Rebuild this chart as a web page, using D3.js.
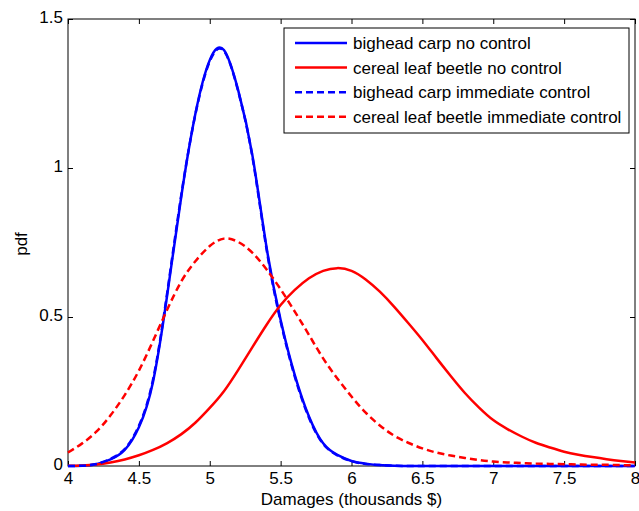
<!DOCTYPE html>
<html>
    <head>
        <meta charset="utf-8">
        <title>Damages pdf</title>
        <script type="text/javascript" src="https://d3js.org/d3.v7.min.js"></script>
        <style>
            body { margin: 0; background: #fff; }
            svg { display: block; }
            text { font-family: "Liberation Sans", Arial, Helvetica, sans-serif; font-size: 17px; fill: #000; }
        </style>
    </head>
    <body>
        <script>
            // damages grid (thousands $)
            var damages = [4.0, 4.1, 4.2, 4.3, 4.4, 4.5, 4.6, 4.7, 4.8, 4.9,
                           5.0, 5.1, 5.2, 5.3, 5.4, 5.5, 5.6, 5.7, 5.8, 5.9,
                           6.0, 6.1, 6.2, 6.3, 6.4, 6.5, 6.6, 6.7, 6.8, 6.9,
                           7.0, 7.1, 7.2, 7.3, 7.4, 7.5, 7.6, 7.7, 7.8, 7.9, 8.0];

            // pdf values
            var carpNoControl = [0.000, 0.001, 0.006, 0.022, 0.054, 0.130, 0.283, 0.574, 0.907, 1.185,
                                 1.362, 1.396, 1.262, 1.045, 0.736, 0.490, 0.305, 0.166, 0.076, 0.037,
                                 0.017, 0.008, 0.003, 0.001, 0, 0, 0, 0, 0, 0,
                                 0, 0, 0, 0, 0, 0, 0, 0, 0, 0, 0];
            var beetleNoControl = [0.001, 0.002, 0.005, 0.012, 0.022, 0.036, 0.054, 0.077, 0.107, 0.146,
                                   0.195, 0.251, 0.322, 0.398, 0.473, 0.540, 0.591, 0.630, 0.655, 0.664,
                                   0.655, 0.626, 0.585, 0.535, 0.480, 0.423, 0.362, 0.302, 0.245, 0.196,
                                   0.154, 0.124, 0.099, 0.078, 0.062, 0.048, 0.038, 0.030, 0.023, 0.017, 0.012];
            var carpImmediate = [0.000, 0.001, 0.007, 0.024, 0.057, 0.135, 0.290, 0.582, 0.912, 1.183,
                                 1.358, 1.393, 1.259, 1.040, 0.730, 0.485, 0.300, 0.162, 0.074, 0.036,
                                 0.016, 0.007, 0.003, 0.001, 0, 0, 0, 0, 0, 0,
                                 0, 0, 0, 0, 0, 0, 0, 0, 0, 0, 0];
            var beetleImmediate = [0.045, 0.076, 0.115, 0.170, 0.238, 0.320, 0.420, 0.525, 0.620, 0.688,
                                   0.738, 0.763, 0.752, 0.716, 0.660, 0.593, 0.518, 0.440, 0.361, 0.294,
                                   0.233, 0.179, 0.136, 0.102, 0.078, 0.059, 0.045, 0.035, 0.027, 0.020,
                                   0.015, 0.012, 0.010, 0.008, 0.007, 0.006, 0.005, 0.004, 0.004, 0.003, 0.003];

            var seriesNames = ["bighead carp no control", "cereal leaf beetle no control",
                               "bighead carp immediate control", "cereal leaf beetle immediate control"];
            var xTicks = [4, 4.5, 5, 5.5, 6, 6.5, 7, 7.5, 8];
            var yTicks = [0, 0.5, 1, 1.5];

            // line styles, in drawing order
            var series = [
                { name: seriesNames[0], values: carpNoControl, color: "#0000ff", dash: null },
                { name: seriesNames[1], values: beetleNoControl, color: "#ff0000", dash: null },
                { name: seriesNames[2], values: carpImmediate, color: "#0000ff", dash: "7,4" },
                { name: seriesNames[3], values: beetleImmediate, color: "#ff0000", dash: "7,4" }
            ];

            var W = 639, H = 511;
            var plotL = 68, plotR = 635, plotT = 19, plotB = 466;

            var svg = d3.select("body").append("svg")
                .attr("width", W)
                .attr("height", H);

            var x = d3.scaleLinear().domain([4, 8]).range([plotL, plotR]);
            var y = d3.scaleLinear().domain([0, 1.5]).range([plotB, plotT]);

            // axes, ticks pointing inwards on all four sides
            function styleAxis(g) {
                g.select(".domain").remove();
                g.selectAll(".tick line").attr("stroke", "#000");
                g.selectAll("text").style("font-size", "17px").attr("fill", "#000");
            }
            svg.append("g")
                .attr("transform", "translate(0," + plotB + ")")
                .call(d3.axisBottom(x).tickValues(xTicks).tickSize(-5).tickPadding(6).tickFormat(d3.format("")))
                .call(styleAxis);
            svg.append("g")
                .attr("transform", "translate(0," + plotT + ")")
                .call(d3.axisTop(x).tickValues(xTicks).tickSize(-5).tickFormat(""))
                .call(styleAxis);
            svg.append("g")
                .attr("transform", "translate(" + plotL + ",0)")
                .call(d3.axisLeft(y).tickValues(yTicks).tickSize(-5).tickPadding(5).tickFormat(d3.format("")))
                .call(styleAxis)
                .selectAll("text").attr("dy", "0.2em");
            svg.append("g")
                .attr("transform", "translate(" + plotR + ",0)")
                .call(d3.axisRight(y).tickValues(yTicks).tickSize(-5).tickFormat(""))
                .call(styleAxis);

            svg.append("rect")
                .attr("x", plotL).attr("y", plotT)
                .attr("width", plotR - plotL).attr("height", plotB - plotT)
                .attr("fill", "none").attr("stroke", "#000").attr("stroke-width", 1);

            // curves
            var line = d3.line()
                .x(function(d, i) { return x(damages[i]); })
                .y(function(d) { return y(d); })
                .curve(d3.curveNatural);

            svg.selectAll("path.curve")
                .data(series)
                .enter()
                .append("path")
                .attr("class", "curve")
                .attr("d", function(d) { return line(d.values); })
                .attr("fill", "none")
                .attr("stroke", function(d) { return d.color; })
                .attr("stroke-width", 2.5)
                .attr("stroke-dasharray", function(d) { return d.dash; });

            // axis labels
            svg.append("text")
                .attr("x", (plotL + plotR) / 2)
                .attr("y", 505)
                .attr("text-anchor", "middle")
                .text("Damages (thousands $)");
            svg.append("text")
                .attr("transform", "translate(27,244) rotate(-90)")
                .attr("text-anchor", "middle")
                .text("pdf");

            // legend
            var legend = svg.append("g");
            legend.append("rect")
                .attr("x", 284).attr("y", 28)
                .attr("width", 345).attr("height", 105)
                .attr("fill", "#fff").attr("stroke", "#000").attr("stroke-width", 1);
            var rows = legend.selectAll("g.row")
                .data(series)
                .enter()
                .append("g")
                .attr("class", "row")
                .attr("transform", function(d, i) { return "translate(0," + (43 + i * 24.6) + ")"; });
            rows.append("line")
                .attr("x1", 295).attr("x2", 347)
                .attr("stroke", function(d) { return d.color; })
                .attr("stroke-width", 2.5)
                .attr("stroke-dasharray", function(d) { return d.dash; });
            rows.append("text")
                .attr("x", 353)
                .attr("dy", "0.35em")
                .text(function(d) { return d.name; });
        </script>
    </body>
</html>
